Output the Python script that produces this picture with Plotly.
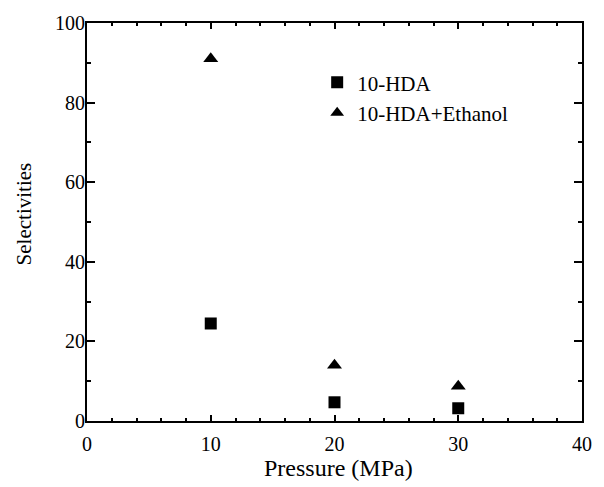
import plotly.graph_objects as go

pressure = [10, 20, 30]
hda = [24.5, 4.7, 3.2]
hda_ethanol = [91.0, 14.0, 8.7]

FONT = "Liberation Serif, Times New Roman, serif"

fig = go.Figure()
fig.add_trace(go.Scatter(x=pressure, y=hda, mode="markers", name="10-HDA",
                         marker=dict(symbol="square", size=12, color="black")))
fig.add_trace(go.Scatter(x=pressure, y=hda_ethanol, mode="markers", name="10-HDA+Ethanol",
                         marker=dict(symbol="triangle-up", size=13, color="black")))

axis_common = dict(showgrid=False, zeroline=False, showline=True, linecolor="black",
                   linewidth=2, mirror="allticks", ticks="inside",
                   tickwidth=1.5, tickcolor="black",
                   tickfont=dict(family=FONT, size=20, color="black"))

fig.update_xaxes(range=[0, 40], tickvals=[0, 10, 20, 30, 40], ticklen=6, ticklabelstandoff=4,
                 minor=dict(dtick=2, ticks="inside", ticklen=3, tickwidth=1.5, tickcolor="black"),
                 **axis_common)
fig.update_yaxes(range=[0, 100], tickvals=[0, 20, 40, 60, 80, 100], ticklen=8, ticklabelstandoff=-4,
                 minor=dict(dtick=10, ticks="inside", ticklen=4, tickwidth=1.5, tickcolor="black"),
                 **axis_common)

fig.add_annotation(text="Selectivities", xref="paper", yref="paper", x=-0.1277, y=0.521,
                   xanchor="center", yanchor="middle", textangle=-90, showarrow=False,
                   font=dict(family=FONT, size=21, color="black"))
fig.add_annotation(text="Pressure (MPa)", xref="paper", yref="paper", x=0.509, y=-0.117,
                   xanchor="center", yanchor="middle", showarrow=False,
                   font=dict(family=FONT, size=24, color="black"))

fig.update_layout(width=604, height=487, margin=dict(l=87, r=16, t=20, b=66),
                  paper_bgcolor="white", plot_bgcolor="white",
                  font=dict(family=FONT, color="black"),
                  legend=dict(x=0.465, y=0.9015, xanchor="left", yanchor="top",
                              bgcolor="rgba(0,0,0,0)", font=dict(family=FONT, size=21, color="black"),
                              tracegroupgap=0, itemsizing="constant"))

fig.write_html("out.html")
